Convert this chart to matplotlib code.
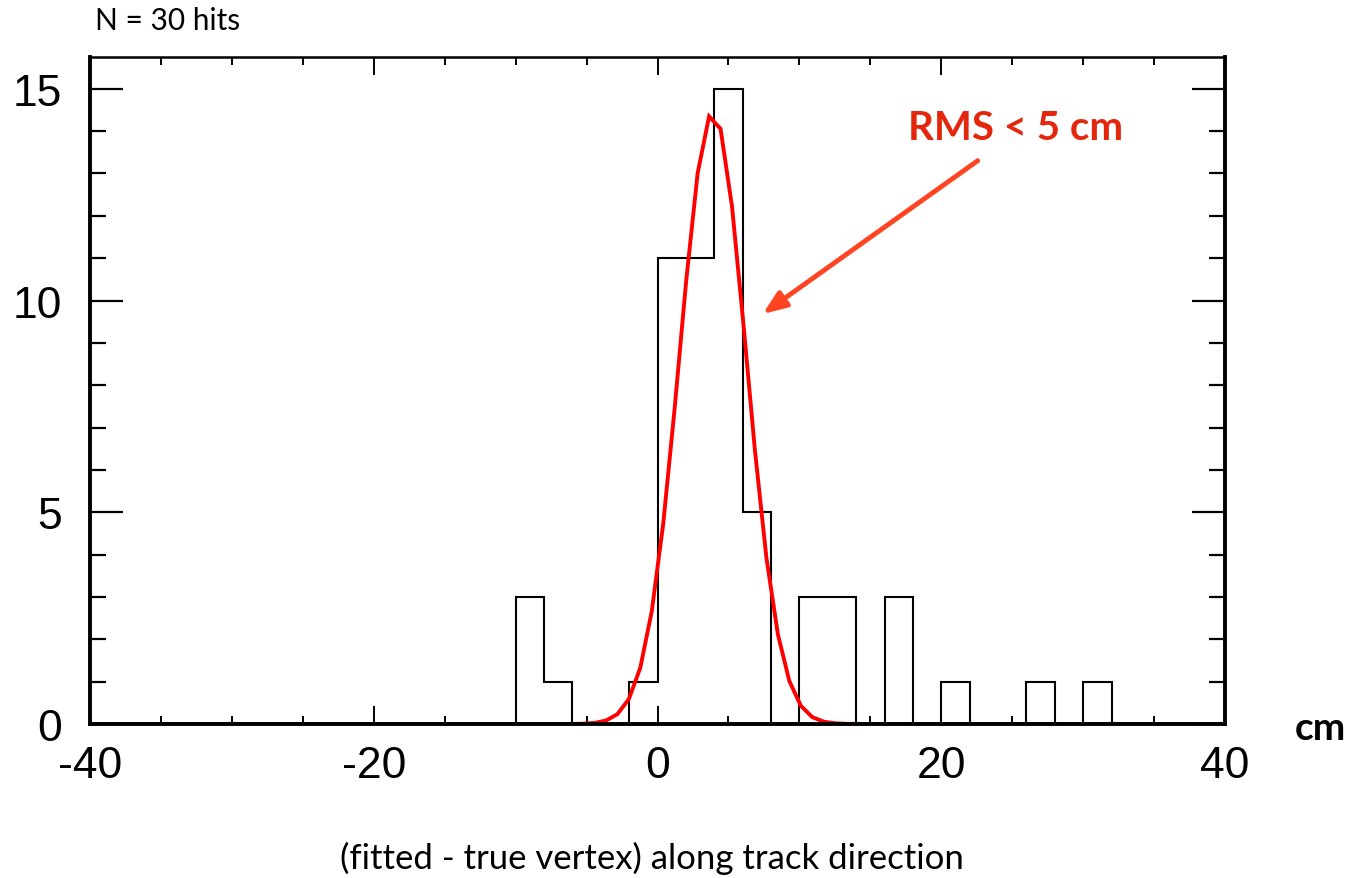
import numpy as np
import matplotlib
matplotlib.use("Agg")
from matplotlib import pyplot as plt
from matplotlib.ticker import MultipleLocator

plt.rcParams["axes.unicode_minus"] = False

# histogram: 2 cm bins from -40 to 40
bin_edges = np.arange(-40, 42, 2)
counts = [0, 0, 0, 0, 0, 0, 0, 0, 0, 0,
          0, 0, 0, 0, 0, 3, 1, 0, 0, 1,
          11, 11, 15, 5, 0, 3, 3, 0, 3, 0,
          1, 0, 0, 1, 0, 1, 0, 0, 0, 0]

# gaussian fit parameters (amplitude, mean, sigma)
fit_amp = 14.44
fit_mean = 3.9
fit_sigma = 2.34

n_hits_label = "N = 30 hits"
rms_label = "RMS < 5 cm"
x_title = "(fitted - true vertex) along track direction"

W, H = 1354, 879
fig = plt.figure(figsize=(W / 100, H / 100), dpi=100)
ax = fig.add_axes([90 / W, 1 - 725 / H, 1135 / W, 667 / H])

ax.stairs(counts, bin_edges, color="black", lw=1.5, baseline=0, zorder=3)

xf = np.linspace(-40, 40, 100)
yf = fit_amp * np.exp(-0.5 * ((xf - fit_mean) / fit_sigma) ** 2)
ax.plot(xf, yf, color="#ff0000", lw=2.8, zorder=4, solid_joinstyle="miter")

ax.set_xlim(-40, 40)
ax.set_ylim(0, 1.05 * max(counts))

for side in ["left", "bottom", "right"]:
    ax.spines[side].set_linewidth(2.8)
ax.spines["top"].set_linewidth(1.8)
ax.spines["bottom"].set_zorder(5)

ax.xaxis.set_major_locator(MultipleLocator(20))
ax.xaxis.set_minor_locator(MultipleLocator(5))
ax.yaxis.set_major_locator(MultipleLocator(5))
ax.yaxis.set_minor_locator(MultipleLocator(1))

ax.tick_params(axis="x", which="major", direction="in", length=13, width=1.4,
               top=True, bottom=True, pad=15, labelsize=32)
ax.tick_params(axis="x", which="minor", direction="in", length=6, width=1.4,
               top=True, bottom=True)
ax.tick_params(axis="y", which="major", direction="in", length=23.5, width=1.6,
               left=True, right=True, pad=20, labelsize=32)
ax.tick_params(axis="y", which="minor", direction="in", length=11.5, width=1.6,
               left=True, right=True)
for lbl in ax.get_xticklabels() + ax.get_yticklabels():
    lbl.set_family("Liberation Sans")

# annotations
fig.text(95 / W, 1 - 21 / H, n_hits_label, family="Lato", fontsize=21.5,
         va="center", ha="left")
fig.text(1295 / W, 1 - 729 / H, "cm", family="Lato", fontweight="bold",
         fontsize=28, va="center", ha="left")
fig.text(652 / W, 1 - 858 / H, x_title, family="Lato", fontsize=25,
         va="center", ha="center")
fig.text(908 / W, 1 - 128 / H, rms_label, family="Lato", fontweight="bold",
         fontsize=29, color="#e4260c", va="center", ha="left")

ax.annotate("", xy=(762.7 / W, 1 - 315 / H), xytext=(977.7 / W, 1 - 161.7 / H),
            xycoords="figure fraction", textcoords="figure fraction",
            arrowprops=dict(arrowstyle="-|>,head_length=1.4,head_width=0.55",
                            color="#ff4422", lw=3.5, shrinkA=0, shrinkB=0))

fig.savefig("out.png", dpi=100)
